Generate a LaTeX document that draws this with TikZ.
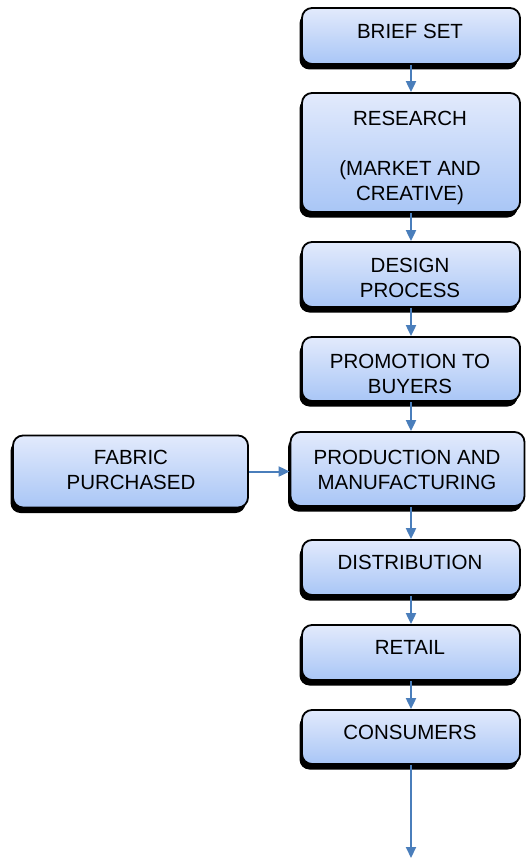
\documentclass[tikz,border=0pt]{standalone}
\usepackage{fontspec}
\setmainfont{Liberation Sans}
\usetikzlibrary{arrows.meta,shadows}
\definecolor{boxtop}{HTML}{E2EAFC}
\definecolor{boxbot}{HTML}{A9C6F6}
\definecolor{arrowblue}{HTML}{4A7EBB}
\tikzset{
  flowbox/.style={rectangle, rounded corners=10pt, draw=black, line width=1.8pt,
    top color=boxtop, bottom color=boxbot, inner sep=0pt,
    drop shadow={shadow xshift=-2.5pt, shadow yshift=-5.5pt, fill=black, opacity=1}},
  boxtext/.style={inner sep=0pt, align=center, font=\fontsize{20.5pt}{25pt}\selectfont, text=black},
  arr/.style={draw=arrowblue, line width=2pt, -{Triangle[width=10pt,length=11pt]}}
}
\begin{document}
\begin{tikzpicture}[x=1pt,y=-1pt]
\useasboundingbox (0,0) rectangle (528,859);
% boxes
\node[flowbox, minimum width=218pt, minimum height=56pt] (brief) at (411,36) {};
\node[flowbox, minimum width=218pt, minimum height=119pt] (research) at (411,152.5) {};
\node[flowbox, minimum width=218pt, minimum height=65pt] (design) at (411,274.5) {};
\node[flowbox, minimum width=218pt, minimum height=64pt] (promo) at (411,369) {};
\node[flowbox, minimum width=234pt, minimum height=74pt] (prod) at (407.5,469) {};
\node[flowbox, minimum width=235pt, minimum height=72pt] (fabric) at (130.5,471.5) {};
\node[flowbox, minimum width=218pt, minimum height=55pt] (distrib) at (411,567.5) {};
\node[flowbox, minimum width=218pt, minimum height=55pt] (retail) at (411,652.5) {};
\node[flowbox, minimum width=218pt, minimum height=54pt] (cons) at (411,737) {};
% texts
\node[boxtext] (briefT) at (410,31) {BRIEF SET};
\node[boxtext] (researchT) at (410,157.5) {RESEARCH\\[25pt](MARKET AND\\CREATIVE)};
\node[boxtext] (designT) at (410,277.5) {DESIGN\\PROCESS};
\node[boxtext] (promoT) at (410,373.5) {PROMOTION TO\\BUYERS};
\node[boxtext] (prodT) at (407,469.5) {PRODUCTION AND\\MANUFACTURING};
\node[boxtext] (fabricT) at (131,470) {FABRIC\\PURCHASED};
\node[boxtext] (distribT) at (410,562) {DISTRIBUTION};
\node[boxtext] (retailT) at (410,647) {RETAIL};
\node[boxtext] (consT) at (410,732) {CONSUMERS};
% connectors
\coordinate (endpt) at (411,858);
\draw[arr] (brief.south) -- (research.north);
\draw[arr] (research.south) -- (design.north);
\draw[arr] (design.south) -- (promo.north);
\draw[arr] (promo.south) -- (promo.south |- prod.north);
\draw[arr] (prod.south -| distrib.north) -- (distrib.north);
\draw[arr] (distrib.south) -- (retail.north);
\draw[arr] (retail.south) -- (cons.north);
\draw[arr] (cons.south) -- (endpt);
\draw[arr] (fabric.east) -- (fabric.east -| prod.west);
\end{tikzpicture}
\end{document}
